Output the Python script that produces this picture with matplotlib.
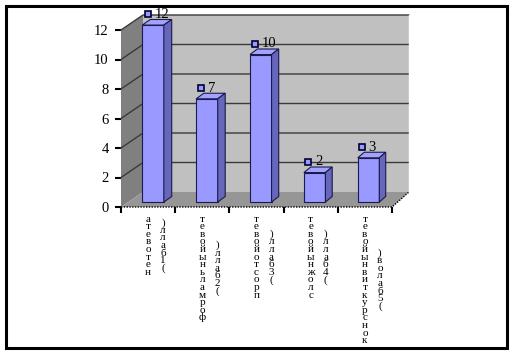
import numpy as np
import matplotlib
matplotlib.use("Agg")
import matplotlib.pyplot as plt
from matplotlib.patches import Polygon, Rectangle

plt.rcParams['font.family'] = ['Liberation Serif', 'DejaVu Serif']

# data
values = [12, 7, 10, 2, 3]
label_main = ["атевотен", "тевойыньламроф", "тевойотсорп", "тевойынжолс", "тевойынвиткурснок"]
label_sub = [")ллаб1(", ")ллаб2(", ")ллаб3(", ")ллаб4(", ")волаб5("]
yticks = [0, 2, 4, 6, 8, 10, 12]

# 3d look (in data units of the front plane)
DX, DY, SHRINK = 0.406, 1.017, 0.0185
Z0, Z1 = 0.33, 0.70
HALF = 0.2

def proj(x, v, z):
    return (x * (1 - SHRINK * z) + DX * z, v + DY * z)

def poly(ax, pts, fc, ec="none", lw=0.8, zo=1):
    p = Polygon([proj(*p) for p in pts], closed=True, facecolor=fc,
                edgecolor=ec, linewidth=lw, clip_on=False, zorder=zo)
    ax.add_patch(p)

fig = plt.figure(figsize=(5.12, 3.52), dpi=100)
ax = fig.add_axes([121 / 512, (352 - 207) / 352, 271 / 512, 177 / 352])
ax.set_xlim(0, 5)
ax.set_ylim(0, 12)
n = len(values)

# walls and floor
poly(ax, [(0, 0, 1), (n, 0, 1), (n, 12, 1), (0, 12, 1)], "#c0c0c0", zo=1)
poly(ax, [(0, 0, 0), (0, 12, 0), (0, 12, 1), (0, 0, 1)], "#808080", zo=1)
poly(ax, [(0, 0, 0), (n, 0, 0), (n, 0, 1), (0, 0, 1)], "#969696", zo=1)
for v in yticks[1:]:
    xs, ys = zip(proj(0, v, 0), proj(0, v, 1), proj(n, v, 1))
    ax.plot(xs, ys, color="#3a3a3a", lw=1, clip_on=False, zorder=2)
xs, ys = zip(proj(0, 0, 0), proj(n, 0, 0), proj(n, 0, 1))
ax.plot(xs, ys, color="black", lw=1, ls=(0, (1, 1)), clip_on=False, zorder=2)
xs, ys = zip(proj(n, 0, 1), proj(n, 12, 1))
ax.plot(xs, ys, color="white", lw=1, clip_on=False, zorder=2)

# bars
for i, v in enumerate(values):
    c = i + 0.46
    l, r = c - HALF, c + HALF
    poly(ax, [(l, 0, Z0), (r, 0, Z0), (r, v, Z0), (l, v, Z0)], "#9999ff", "#1a1a4d", zo=3)
    poly(ax, [(l, v, Z0), (r, v, Z0), (r, v, Z1), (l, v, Z1)], "#a3a3ff", "#1a1a4d", zo=3)
    poly(ax, [(r, 0, Z0), (r, 0, Z1), (r, v, Z1), (r, v, Z0)], "#6666bb", "#1a1a4d", zo=3)
    lx, ly = proj(l, v + 0.35, Z1)
    ax.plot(lx - 0.05, ly, marker="s", ms=5, mfc="#9999ff", mec="#000033", mew=1.2,
            clip_on=False, zorder=5)
    ax.annotate(str(v), xy=(lx - 0.05, ly), xytext=(5, 0), textcoords="offset points",
                fontsize=10.5, ha="left", va="center", zorder=5, annotation_clip=False)

# axes
for s in ax.spines.values():
    s.set_visible(False)
ax.patch.set_visible(False)
ax.set_yticks(yticks)
ax.set_yticklabels([str(t) for t in yticks], fontsize=10.5)
ax.set_xticks(range(n + 1))
ax.set_xticklabels([])
ax.tick_params(axis="y", direction="out", length=4, width=1.5, pad=5)
ax.tick_params(axis="x", direction="out", length=4.5, width=1.5)

# stacked category labels, one glyph at a time
step = 7.6 * 0.72
top = 14.5 * 0.72
for i in range(n):
    a, b = label_main[i], label_sub[i]
    shift = (len(a) - len(b)) * step / 2
    for k, ch in enumerate(a):
        ax.annotate(ch, xy=(i + 0.5, 0), xytext=(0, -(top + k * step)),
                    textcoords="offset points", ha="center", va="baseline",
                    fontsize=8, annotation_clip=False)
    for k, ch in enumerate(b):
        ax.annotate(ch, xy=(i + 0.5, 0), xytext=(15 * 0.72, -(top + shift + k * step)),
                    textcoords="offset points", ha="center", va="baseline",
                    fontsize=8, annotation_clip=False)

# outer frame
fig.patches.append(Rectangle((5.5 / 512, 4.5 / 352), 501 / 512, 342 / 352, transform=fig.transFigure,
                             fill=False, edgecolor="black", linewidth=2.2))

fig.savefig("out.png", dpi=100)
